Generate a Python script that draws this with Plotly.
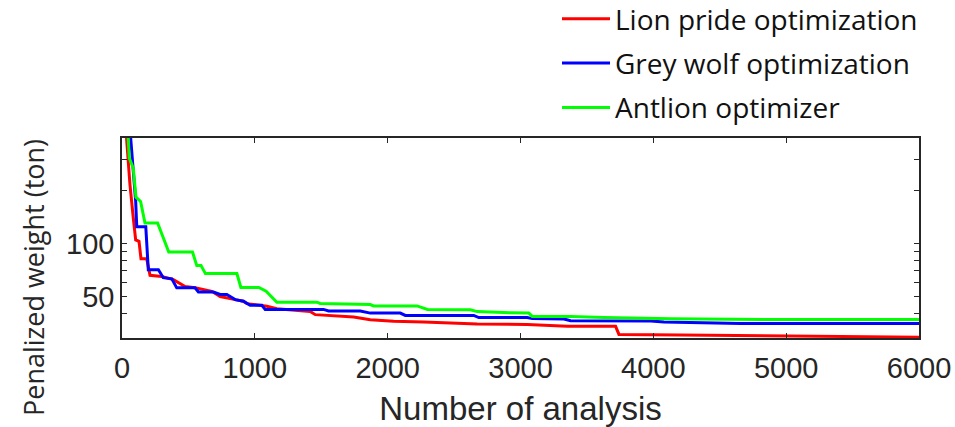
import math
import plotly.graph_objects as go

# Lion pride optimization (red)
lpo_x = [0, 60, 85, 103, 128, 143, 186, 211, 299, 387, 475, 550, 676, 739, 852, 914, 940,
         1091, 1166, 1417, 1455, 1744, 1869, 2045, 2271, 2674, 3051, 3352, 3716, 3741,
         4206, 4885, 5488, 5714, 6000]
lpo_y = [900, 217, 140, 105, 103, 82, 82, 66, 65, 62.4, 57, 56, 53.5, 50, 48, 47, 45.5,
         44, 42.6, 41.1, 39.4, 38.2, 36.9, 36.1, 35.8, 34.9, 34.6, 33.8, 33.8, 30.4,
         30.2, 29.8, 29.7, 29.3, 29.3]

# Grey wolf optimization (blue)
gwo_x = [40, 85, 103, 111, 179, 198, 274, 311, 375, 412, 550, 575, 688, 739, 789, 852,
         914, 965, 1053, 1078, 1517, 1555, 1794, 1869, 2095, 2133, 2648, 2686, 3051,
         3088, 3327, 3377, 3980, 4080, 4357, 4658, 6000]
gwo_y = [700, 269, 174, 125, 125, 71, 71, 64, 63, 56, 56, 53, 53, 51.3, 51.3, 48,
         47, 44.5, 44.5, 42.2, 42.2, 41.3, 41.3, 40.2, 40.2, 39.0, 39.0, 37.9, 37.9,
         37.4, 37.2, 36.4, 36.2, 35.8, 35.6, 35.1, 35.1]

# Antlion optimizer (green)
alo_x = [20, 55, 85, 105, 140, 173, 268, 305, 352, 531, 563, 595, 628, 865, 895, 1030,
         1085, 1166, 1468, 1492, 1869, 1894, 2221, 2300, 2623, 2674, 2900, 2925, 3063,
         3088, 3377, 3628, 4131, 4885, 6000]
alo_y = [900, 307, 269, 184, 174, 131, 131, 110, 89.5, 89.5, 75, 75, 67.5, 67.5, 56.3,
         56.3, 53.6, 46.4, 46.4, 45.6, 45.0, 44.2, 44.2, 42.2, 42.0, 41.0, 40.8, 40.4,
         40.2, 38.5, 38.5, 37.9, 37.3, 37.0, 37.0]

series_names = ["Lion pride optimization", "Grey wolf optimization", "Antlion optimizer"]
series_colors = ["#ff0000", "#0000ff", "#00ff00"]

x_ticks = [0, 1000, 2000, 3000, 4000, 5000, 6000]
y_ticks = [40, 50, 60, 70, 80, 90, 100, 200, 300]
y_ticktext = ["", "50", "", "", "", "", "100", "", ""]

W, H = 955, 427
L, R, T, B = 122, 36, 138, 89
PW, PH = W - L - R, H - T - B

fig = go.Figure()
for i, (xs, ys) in enumerate([(lpo_x, lpo_y), (gwo_x, gwo_y), (alo_x, alo_y)]):
    fig.add_trace(go.Scatter(
        x=xs, y=ys, mode="lines", name=series_names[i],
        line=dict(color=series_colors[i], width=3),
        legendgroup=f"g{i}",
    ))

axis_color = "#262626"
tick_font = dict(family="Liberation Sans, Arial, sans-serif", size=29, color="#262626")
title_font = dict(family="Liberation Sans, Arial, sans-serif", size=33, color="#262626")

fig.update_layout(
    width=W, height=H,
    margin=dict(l=L, r=R, t=T, b=B, pad=0, autoexpand=False),
    paper_bgcolor="white", plot_bgcolor="white",
    showlegend=True,
    legend=dict(
        x=(557 - L) / PW, y=(H - B + 6) / PH,
        xanchor="left", yanchor="top",
        font=dict(family="Open Sans, sans-serif", size=28, color="#111111"),
        tracegroupgap=5, itemwidth=48, bgcolor="rgba(0,0,0,0)",
    ),
    xaxis=dict(
        range=[0, 6000], tickvals=x_ticks, ticktext=[str(v) for v in x_ticks],
        ticks="inside", ticklen=5, tickwidth=1, tickcolor=axis_color,
        showline=True, linecolor=axis_color, linewidth=1.5, mirror="ticks",
        showgrid=False, zeroline=False, tickfont=tick_font, automargin=False,
        ticklabelstandoff=3,
        title=dict(text="Number of analysis", font=title_font, standoff=14),
    ),
    yaxis=dict(
        type="log", range=[math.log10(29), math.log10(400)],
        tickvals=y_ticks, ticktext=y_ticktext,
        ticks="inside", ticklen=5, tickwidth=1, tickcolor=axis_color,
        showline=True, linecolor=axis_color, linewidth=1.5, mirror="ticks",
        showgrid=False, zeroline=False, tickfont=tick_font, automargin=False,
    ),
    annotations=[dict(
        text="Penalized weight (ton)", textangle=-90,
        xref="paper", yref="paper",
        x=(33 - L) / PW, y=(H - B - 278) / PH,
        xanchor="center", yanchor="middle", showarrow=False,
        font=dict(family="Open Sans, sans-serif", size=27, color="#262626"),
    )],
)

fig.write_html("out.html")
